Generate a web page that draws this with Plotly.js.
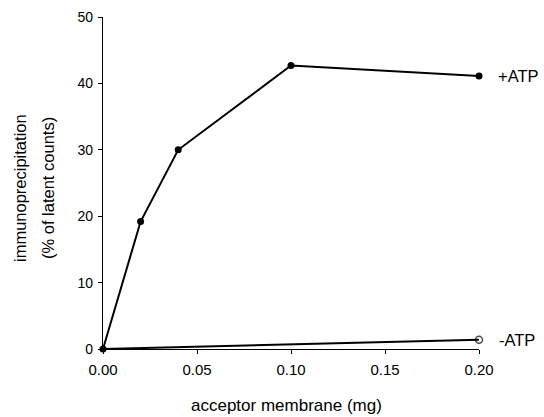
<!DOCTYPE html>
<html><head><meta charset="utf-8">
<script src="https://cdn.plot.ly/plotly-3.0.1.min.js"></script>
<style>html,body{margin:0;padding:0;background:#fff;}#chart{width:544px;height:417px;}</style>
</head><body><div id="chart"></div>
<script>
const xPlus = [0, 0.02, 0.04, 0.10, 0.20];
const yPlus = [0, 19.2, 30.0, 42.7, 41.1];
const xMinus = [0, 0.20];
const yMinus = [0, 1.4];
const seriesNames = ['+ATP', '-ATP'];
const xTicks = [0, 0.05, 0.10, 0.15, 0.20];
const xTickLabels = ['0.00', '0.05', '0.10', '0.15', '0.20'];
const yTicks = [0, 10, 20, 30, 40, 50];
const yTitleLines = ['immunoprecipitation', '(% of latent counts)'];

const font = {family: 'Liberation Sans, Arial, sans-serif', color: '#000'};
const f = s => Object.assign({size: s}, font);
const plotLeft = 103, plotW = 376;

const traces = [
  {x: xMinus, y: yMinus, mode: 'lines+markers', name: seriesNames[1],
   line: {color: '#000', width: 2},
   marker: {symbol: 'circle-open', size: [0, 7], color: '#000', line: {width: 1.5, color: '#000'}},
   cliponaxis: false},
  {x: xPlus, y: yPlus, mode: 'lines+markers', name: seriesNames[0],
   line: {color: '#000', width: 2},
   marker: {symbol: 'circle', size: 7, color: '#000'},
   cliponaxis: false}
];

const layout = {
  width: 544, height: 417,
  margin: {l: plotLeft, r: 544 - plotLeft - plotW, t: 17, b: 68},
  paper_bgcolor: '#fff', plot_bgcolor: '#fff',
  showlegend: false,
  font: f(14),
  xaxis: {range: [0, 0.20], tickvals: xTicks, ticktext: xTickLabels,
    showgrid: false, zeroline: false, showline: true, linecolor: '#000', linewidth: 1.2,
    ticks: 'outside', ticklen: 4, tickcolor: '#000', tickfont: f(15), ticklabelstandoff: 3},
  yaxis: {range: [0, 50], tickvals: yTicks,
    showgrid: false, zeroline: false, showline: true, linecolor: '#000', linewidth: 1.2,
    ticks: 'outside', ticklen: 4, tickcolor: '#000', tickfont: f(14), ticklabelstandoff: 2},
  annotations: [
    {x: xPlus[xPlus.length-1], y: yPlus[yPlus.length-1], xref: 'x', yref: 'y', text: seriesNames[0],
     showarrow: false, xanchor: 'left', xshift: 17, font: f(16.5)},
    {x: xMinus[xMinus.length-1], y: yMinus[yMinus.length-1], xref: 'x', yref: 'y', text: seriesNames[1],
     showarrow: false, xanchor: 'left', xshift: 18, font: f(16.5)},
    {x: (20 - plotLeft) / plotW, y: 0.5, xref: 'paper', yref: 'paper', xanchor: 'center', yanchor: 'middle',
     text: yTitleLines[0], textangle: -90, showarrow: false, font: f(16.5), yshift: -5},
    {x: (48 - plotLeft) / plotW, y: 0.5, xref: 'paper', yref: 'paper', xanchor: 'center', yanchor: 'middle',
     text: yTitleLines[1], textangle: -90, showarrow: false, font: f(16.5), yshift: -5},
    {x: 0.5, y: 0, xref: 'paper', yref: 'paper', xanchor: 'center', yanchor: 'middle', yshift: -56, xshift: -5,
     text: 'acceptor membrane (mg)', showarrow: false, font: f(17)}
  ]
};
Plotly.newPlot('chart', traces, layout, {displayModeBar: false, staticPlot: true});
</script></body></html>
